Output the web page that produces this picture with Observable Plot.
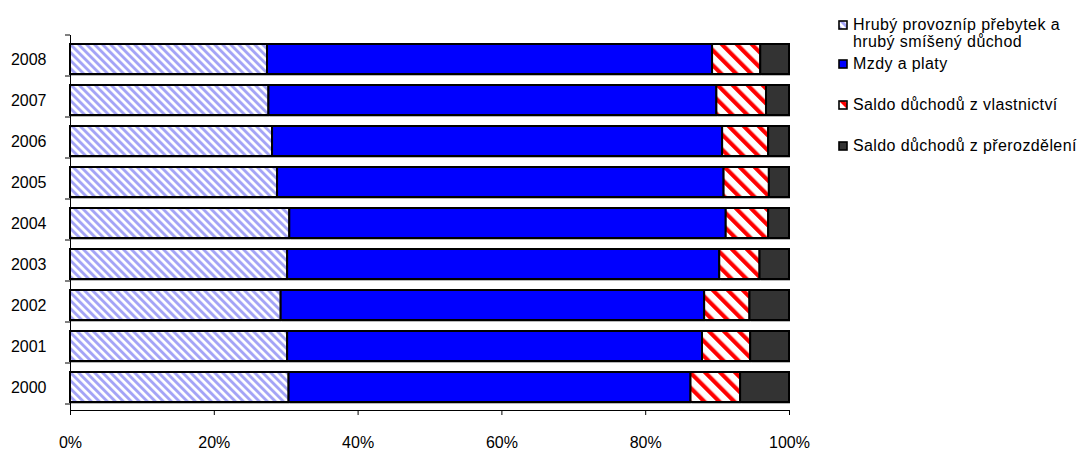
<!DOCTYPE html>
<html>
<head>
<meta charset="utf-8">
<script src="https://cdn.jsdelivr.net/npm/d3@7"></script>
<script src="https://cdn.jsdelivr.net/npm/@observablehq/plot@0.6"></script>
<style>
  body { margin: 0; background: #fff; font-family: "Liberation Sans", Arial, sans-serif; }
  #wrap { position: relative; width: 1079px; height: 450px; }
  #chart { position: absolute; left: 0; top: 0; }
  #legend { position: absolute; left: 838px; top: 0; font-size: 16px; letter-spacing: 0.4px; color: #000; }
  .item { position: absolute; left: 0; display: flex; align-items: flex-start; white-space: pre; line-height: 17px; }
  .item svg { flex: none; margin-top: 4px; margin-right: 5px; }
  .item:nth-child(1) { top: 16px; }
  .item:nth-child(2) { top: 55px; }
  .item:nth-child(3) { top: 96px; }
  .item:nth-child(4) { top: 137px; }
</style>
</head>
<body>
<!-- Fill patterns shared by the bars and the legend swatches -->
<svg width="0" height="0" style="position:absolute">
  <defs>
    <pattern id="hatch-blue" width="5.66" height="5.66" patternUnits="userSpaceOnUse" patternTransform="rotate(-45)">
      <rect width="5.66" height="5.66" fill="#ffffff"/>
      <rect width="2.9" height="5.66" fill="#a4a4f6"/>
    </pattern>
    <pattern id="hatch-red" width="10.6" height="10.6" patternUnits="userSpaceOnUse" patternTransform="rotate(-45)">
      <rect width="10.6" height="10.6" fill="#ffffff"/>
      <rect width="4.2" height="10.6" fill="#ff0000"/>
    </pattern>
  </defs>
</svg>
<div id="wrap">
  <div id="chart"></div>
  <div id="legend"></div>
</div>
<script>
// Years, top to bottom
const years = ["2008", "2007", "2006", "2005", "2004", "2003", "2002", "2001", "2000"];

// Shares of each component, in percent
const grossSurplus   = [27.4, 27.6, 28.1, 28.8, 30.5, 30.2, 29.3, 30.2, 30.4];
const wages          = [61.9, 62.3, 62.6, 62.1, 60.7, 60.1, 58.9, 57.7, 55.9];
const propertyIncome = [6.7, 6.9, 6.4, 6.3, 5.9, 5.6, 6.3, 6.7, 6.9];
const redistribution = [4.0, 3.2, 2.9, 2.8, 2.9, 4.1, 5.5, 5.4, 6.8];

const seriesNames = [
  "Hrubý provozníp přebytek a hrubý smíšený důchod",
  "Mzdy a platy",
  "Saldo důchodů z vlastnictví",
  "Saldo důchodů z přerozdělení"
];
const legendLabels = [
  "Hrubý provozníp přebytek a\nhrubý smíšený důchod",
  "Mzdy a platy",
  "Saldo důchodů z vlastnictví",
  "Saldo důchodů z přerozdělení"
];
const seriesFills = ["url(#hatch-blue)", "#0000ff", "url(#hatch-red)", "#333333"];
const xTicks = [0, 20, 40, 60, 80, 100];

// Long table: one row per year and component
const seriesValues = [grossSurplus, wages, propertyIncome, redistribution];
const rows = [];
years.forEach((year, i) => {
  seriesNames.forEach((name, s) => rows.push({year, series: name, value: seriesValues[s][i]}));
});

const chart = Plot.plot({
  width: 820,
  height: 450,
  marginLeft: 70,
  marginRight: 31,
  marginTop: 35,
  marginBottom: 40,
  style: {fontFamily: "'Liberation Sans', Arial, sans-serif", fontSize: "16px", color: "#000", background: "#fff"},
  x: {domain: [0, 100]},
  y: {domain: years, paddingInner: 0.28, paddingOuter: 0.14},
  color: {domain: seriesNames, range: seriesFills},
  marks: [
    // soft drop shadow under each bar
    Plot.barX(rows, Plot.stackX({y: "year", x: "value", fill: "#b8b8b8", dx: 1, dy: 2})),
    Plot.barX(rows, Plot.stackX({y: "year", x: "value", fill: "series", stroke: "#000", strokeWidth: 2})),
    Plot.frame({anchor: "left", stroke: "#000"}),
    Plot.frame({anchor: "bottom", stroke: "#000"}),
    Plot.axisX({ticks: xTicks, tickFormat: d => d + "%", tickSize: 5, tickPadding: 21, label: null, stroke: "#000"}),
    Plot.axisY({tickSize: 0, tickPadding: 24, label: null})
  ]
});

// Category axis ticks sit on the band boundaries
const ys = chart.scale("y");
const xs = chart.scale("x");
const x0 = xs.apply(0);
const bounds = d3.range(years.length + 1).map(i => ys.range[0] + i * ys.step);
d3.select(chart).append("g")
  .attr("stroke", "#000")
  .selectAll("line")
  .data(bounds)
  .join("line")
  .attr("x1", x0 - 5).attr("x2", x0)
  .attr("y1", d => d).attr("y2", d => d);

document.getElementById("chart").appendChild(chart);

// Legend
const legend = d3.select("#legend");
legendLabels.forEach((label, i) => {
  const item = legend.append("div").attr("class", "item");
  const sw = item.append("svg").attr("width", 10).attr("height", 10);
  sw.append("rect").attr("x", 1).attr("y", 1).attr("width", 8).attr("height", 8)
    .attr("fill", seriesFills[i]).attr("stroke", "#000").attr("stroke-width", 1.6);
  item.append("span").text(label);
});
</script>
</body>
</html>
